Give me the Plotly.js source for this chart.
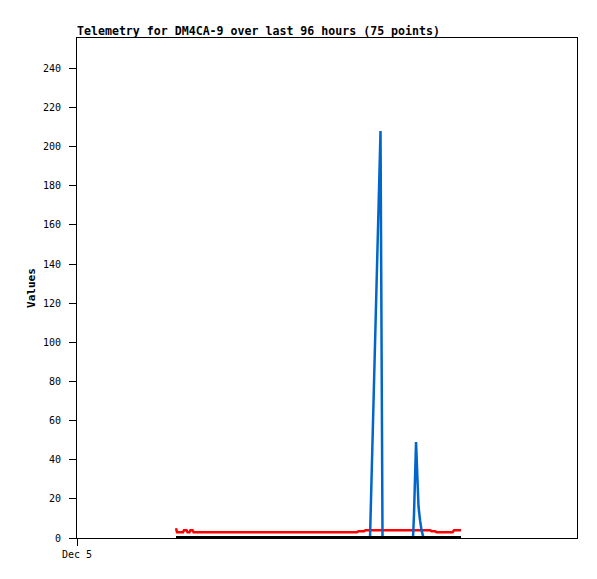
<!DOCTYPE html>
<html>
<head>
<meta charset="utf-8">
<script src="https://cdn.plot.ly/plotly-3.0.1.min.js"></script>
<style>html,body{margin:0;padding:0;background:#fff;}#chart{width:597px;height:579px;}</style>
</head>
<body>
<div id="chart"></div>
<script>
// Series (times in local chart time)
const redTimes = [
  '2023-12-06 09:16','2023-12-06 09:36','2023-12-06 11:37','2023-12-06 11:57',
  '2023-12-06 12:47','2023-12-06 13:08','2023-12-06 13:48','2023-12-06 14:08',
  '2023-12-06 14:49','2023-12-06 15:09','2023-12-08 22:05','2023-12-08 22:35',
  '2023-12-09 00:26','2023-12-09 00:56','2023-12-09 22:37','2023-12-09 23:07',
  '2023-12-10 00:18','2023-12-10 00:48','2023-12-10 06:11','2023-12-10 06:41',
  '2023-12-10 09:02'
];
const redValues = [5, 3, 3, 4, 4, 3, 3, 4, 4, 3, 3, 3.5, 3.5, 4, 4, 3.5, 3.5, 3, 3, 4, 4];

const blueTimes = [
  '2023-12-06 09:16','2023-12-09 02:27','2023-12-09 05:59','2023-12-09 06:39',
  '2023-12-09 16:54','2023-12-09 17:14','2023-12-09 17:55','2023-12-09 18:15',
  '2023-12-09 18:45','2023-12-09 19:16','2023-12-09 19:46','2023-12-09 20:26',
  '2023-12-10 09:02'
];
const blueValues = [0, 0, 208, 0, 0, 12, 49, 37, 16, 9, 4, 0, 0];

const blackTimes = ['2023-12-06 09:16', '2023-12-10 09:02'];
const blackValues = [0, 0];

const xRange = ['2023-12-05 00:00', '2023-12-12 00:00'];
const xTickVals = ['2023-12-05 00:00'];
const xTickText = ['Dec 5'];
const yTickVals = [0, 20, 40, 60, 80, 100, 120, 140, 160, 180, 200, 220, 240];

const traces = [
  {x: redTimes, y: redValues, type: 'scatter', mode: 'lines',
   line: {color: '#ff0000', width: 2.5}, hoverinfo: 'skip'},
  {x: blueTimes, y: blueValues, type: 'scatter', mode: 'lines',
   line: {color: '#0066cc', width: 2.5}, hoverinfo: 'skip'},
  {x: blackTimes, y: blackValues, type: 'scatter', mode: 'lines',
   line: {color: '#000000', width: 4}, hoverinfo: 'skip'}
];

const mono = 'DejaVu Sans Mono, monospace';
const layout = {
  width: 597, height: 579,
  margin: {l: 77, r: 20, t: 38, b: 41, pad: 0},
  paper_bgcolor: '#ffffff', plot_bgcolor: '#ffffff',
  showlegend: false,
  title: {
    text: 'Telemetry for DM4CA-9 over last 96 hours (75 points)',
    font: {family: mono, size: 11.6, color: '#000', weight: 'bold'},
    x: 0, xref: 'paper', xanchor: 'left',
    y: 1 - 31 / 579, yref: 'container', yanchor: 'middle'
  },
  xaxis: {
    type: 'date', range: xRange,
    tickmode: 'array', tickvals: xTickVals, ticktext: xTickText,
    ticks: 'outside', ticklen: 7, tickcolor: '#000', tickwidth: 1,
    tickfont: {family: mono, size: 10, color: '#000'},
    showgrid: false, zeroline: false,
    showline: true, linecolor: '#000', linewidth: 1, mirror: true
  },
  yaxis: {
    range: [0, 255.5],
    tickmode: 'array', tickvals: yTickVals,
    ticks: 'outside', ticklen: 7, tickcolor: '#000', tickwidth: 1,
    ticklabelstandoff: 6,
    tickfont: {family: mono, size: 10, color: '#000'},
    showgrid: false, zeroline: false,
    showline: true, linecolor: '#000', linewidth: 1, mirror: true,
    title: {text: 'Values', font: {family: mono, size: 11, color: '#000', weight: 'bold'}, standoff: 5}
  }
};

Plotly.newPlot('chart', traces, layout, {displayModeBar: false, staticPlot: true});
</script>
</body>
</html>
